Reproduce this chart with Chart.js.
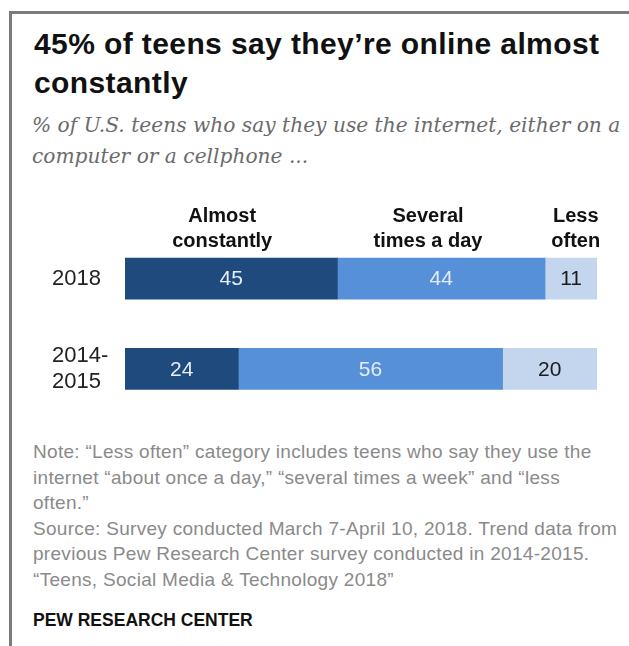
<!DOCTYPE html>
<html>
<head>
<meta charset="utf-8">
<title>45% of teens say they're online almost constantly</title>
<script src="https://cdn.jsdelivr.net/npm/chart.js@4.4.1/dist/chart.umd.min.js"></script>
<style>
  html, body { margin: 0; padding: 0; background: #fff; }
  body { width: 629px; height: 646px; position: relative; overflow: hidden; font-family: "Liberation Sans", Arial, sans-serif; }
  .frame { position: absolute; left: 9px; top: 11px; right: -10px; bottom: -10px; border-left: 3px solid #7b7b7b; border-top: 3px solid #7b7b7b; }
  .title { position: absolute; left: 34px; top: 24px; font-size: 30px; line-height: 39px; font-weight: bold; color: #111; letter-spacing: 0.4px; white-space: nowrap; }
  .subtitle { position: absolute; left: 32px; top: 110px; font-family: "DejaVu Serif", Georgia, serif; font-style: italic; font-size: 20.2px; line-height: 31px; color: #6b6b6b; white-space: nowrap; }
  .chart-box { position: absolute; left: 0; top: 190px; width: 629px; height: 224px; }
  .note { position: absolute; left: 33px; top: 439px; font-size: 19px; line-height: 25.6px; color: #8a8a8a; letter-spacing: 0.3px; white-space: nowrap; }
  .credit { position: absolute; left: 33px; top: 610px; font-size: 17.5px; font-weight: bold; color: #111; white-space: nowrap; }
</style>
</head>
<body>
<div class="frame"></div>
<div class="title">45% of teens say they’re online almost<br>constantly</div>
<div class="subtitle">% of U.S. teens who say they use the internet, either on a<br>computer or a cellphone ...</div>
<div class="chart-box"><canvas id="chart" width="629" height="224"></canvas></div>
<div class="note">Note: “Less often” category includes teens who say they use the<br>internet “about once a day,” “several times a week” and “less<br>often.”<br>Source: Survey conducted March 7-April 10, 2018. Trend data from<br>previous Pew Research Center survey conducted in 2014-2015.<br>“Teens, Social Media &amp; Technology 2018”</div>
<div class="credit">PEW RESEARCH CENTER</div>

<script>
(function () {
  "use strict";

  /* ── Data ── */
  var categories = ["2018", ["2014-", "2015"]];
  var seriesNames = ["Almost constantly", "Several times a day", "Less often"];
  var almostConstantly = [45, 24];
  var severalTimesADay = [44, 56];
  var lessOften = [11, 20];
  var headerLines = [["Almost", "constantly"], ["Several", "times a day"], ["Less", "often"]];

  var FONT = "'Liberation Sans', Arial, sans-serif";
  var colors = ["#1f4a7d", "#5690d8", "#c4d6ee"];
  var labelColors = ["#e6edf8", "#e3ecf9", "#1b1b1b"];

  Chart.defaults.font.family = FONT;

  /* ── Value labels centred in each segment ── */
  var valueLabels = {
    id: "valueLabels",
    afterDatasetsDraw: function (chart) {
      var ctx = chart.ctx;
      ctx.save();
      ctx.font = "21px " + FONT;
      ctx.textAlign = "center";
      ctx.textBaseline = "middle";
      chart.data.datasets.forEach(function (ds, i) {
        var meta = chart.getDatasetMeta(i);
        meta.data.forEach(function (bar, j) {
          ctx.fillStyle = labelColors[i];
          ctx.fillText(String(ds.data[j]), (bar.x + bar.base) / 2, bar.y + 1);
        });
      });
      ctx.restore();
    }
  };

  /* ── Column headers above the top bar ── */
  var columnHeaders = {
    id: "columnHeaders",
    afterDraw: function (chart, args, opts) {
      var ctx = chart.ctx;
      var xs = chart.scales.x;
      var topBar = chart.getDatasetMeta(0).data[0];
      var barTop = topBar.y - topBar.height / 2;
      ctx.save();
      ctx.font = "bold 20px " + FONT;
      ctx.fillStyle = "#111";
      ctx.textAlign = "center";
      ctx.textBaseline = "alphabetic";
      headerLines.forEach(function (lines, i) {
        var x = xs.getPixelForValue(opts.anchors[i]);
        ctx.fillText(lines[0], x, barTop - 36);
        ctx.fillText(lines[1], x, barTop - 11);
      });
      ctx.restore();
    }
  };

  new Chart(document.getElementById("chart").getContext("2d"), {
    type: "bar",
    data: {
      labels: categories,
      datasets: [
        { label: seriesNames[0], data: almostConstantly, backgroundColor: colors[0] },
        { label: seriesNames[1], data: severalTimesADay, backgroundColor: colors[1] },
        { label: seriesNames[2], data: lessOften, backgroundColor: colors[2] }
      ]
    },
    options: {
      responsive: false,
      animation: false,
      indexAxis: "y",
      layout: { padding: { left: 52, right: 32, top: 43.5, bottom: 0 } },
      datasets: { bar: { barThickness: 41, borderWidth: 0 } },
      plugins: {
        legend: { display: false },
        tooltip: { enabled: false },
        columnHeaders: { anchors: [20.6, 64.2, 95.5] }
      },
      scales: {
        x: { stacked: true, min: 0, max: 100, display: false },
        y: {
          stacked: true,
          grid: { display: false },
          border: { display: false },
          ticks: { crossAlign: "far", color: "#222", font: { size: 22 }, padding: 0 },
          afterFit: function (scale) {
            scale.width = 73;
            scale.paddingTop = 0;
            scale.paddingBottom = 0;
          }
        }
      }
    },
    plugins: [valueLabels, columnHeaders]
  });
})();
</script>
</body>
</html>
